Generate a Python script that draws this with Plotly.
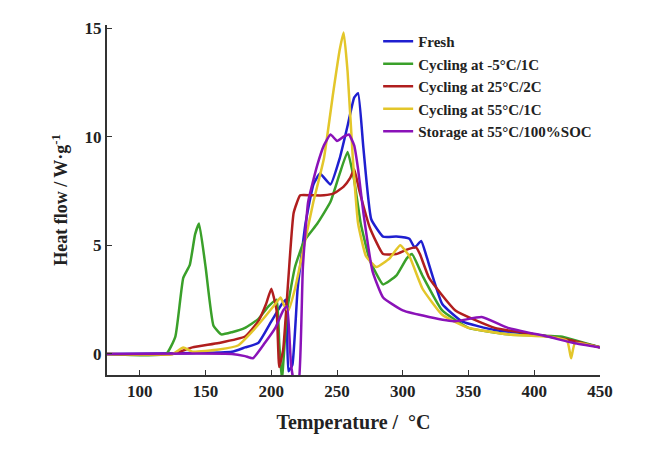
import plotly.graph_objects as go

names = ['Fresh', 'Cycling at -5°C/1C', 'Cycling at 25°C/2C', 'Cycling at 55°C/1C', 'Storage at 55°C/100%SOC']
colors = ['#1f1fd0', '#3aa02a', '#b01e1e', '#e3c62a', '#8a12b8']

fresh_t = [75, 170, 180, 190, 200, 208, 211, 213, 216, 220, 226, 232, 237, 245, 252, 258, 263, 266, 270, 276, 285, 295, 305, 309, 314, 318, 330, 345, 370, 400, 430, 450]
fresh_y = [0, 0.1, 0.3, 0.5, 1.5, 2.3, 2.5, -0.8, -0.5, 3, 6, 7.8, 8.3, 7.8, 9, 10.5, 11.8, 12.0, 9.5, 6.2, 5.4, 5.4, 5.3, 4.9, 5.2, 4.5, 2.3, 1.5, 1.1, 0.9, 0.6, 0.3]

green_t = [75, 120, 127, 133, 138, 142, 145, 150, 156, 162, 170, 180, 190, 198, 204, 206, 208, 212, 218, 225, 235, 245, 252, 258, 263, 268, 275, 285, 295, 303, 307, 315, 330, 350, 380, 420, 450]
green_y = [0, 0, 0.8, 3.5, 4.1, 5.5, 6.0, 4.0, 1.3, 0.9, 1.0, 1.2, 1.6, 2.2, 2.5, 0.5, -1.2, 2.0, 4.0, 5.2, 6.0, 7.0, 8.3, 9.3, 8.0, 6.0, 4.3, 3.2, 3.6, 4.4, 4.6, 3.6, 2.0, 1.2, 0.9, 0.8, 0.3]

red_t = [75, 125, 140, 160, 180, 190, 196, 200, 204, 206, 209, 213, 217, 222, 230, 240, 248, 255, 260, 263, 267, 275, 285, 295, 303, 310, 313, 320, 340, 370, 400, 430, 450]
red_y = [0, 0, 0.3, 0.5, 0.8, 1.5, 2.3, 3.0, 2.0, -0.6, 0.2, 3.5, 6.5, 7.3, 7.3, 7.3, 7.4, 7.7, 8.1, 8.5, 7.5, 5.8, 4.6, 4.6, 4.8, 4.9, 4.6, 3.5, 2.0, 1.2, 0.9, 0.6, 0.3]

yellow_t = [75, 125, 133, 140, 160, 175, 185, 195, 203, 207, 210, 213, 218, 225, 232, 240, 247, 252, 255, 258, 262, 266, 272, 280, 290, 298, 305, 315, 330, 350, 380, 410, 425, 428, 431, 450]
yellow_y = [0, 0, 0.3, 0.1, 0.2, 0.4, 1.0, 1.7, 2.3, 2.6, 2.2, 2.0, 3.0, 5.0, 7.0, 9.0, 12.0, 14.0, 14.8, 13.0, 9.0, 6.0, 4.5, 4.0, 4.4, 5.0, 4.5, 3.0, 1.8, 1.2, 0.9, 0.8, 0.6, -0.2, 0.5, 0.3]

purple_t = [75, 170, 180, 186, 195, 203, 209, 212, 215, 218, 221, 224, 228, 235, 240, 245, 250, 255, 259, 263, 266, 270, 277, 285, 300, 320, 340, 360, 380, 410, 430, 450]
purple_y = [0, 0, -0.1, -0.2, 0.5, 1.2, 2.0, 2.2, -0.5, -1.5, -1.2, 4.0, 7.0, 8.7, 9.6, 10.1, 9.8, 10.0, 10.1, 9.6, 8.5, 6.5, 3.8, 2.6, 2.0, 1.7, 1.5, 1.7, 1.2, 0.8, 0.5, 0.3]

series_t = [fresh_t, green_t, red_t, yellow_t, purple_t]
series_y = [fresh_y, green_y, red_y, yellow_y, purple_y]

fig = go.Figure()
for name, color, t, y in zip(names, colors, series_t, series_y):
    fig.add_trace(go.Scatter(x=t, y=y, mode='lines', name=name,
                             line=dict(color=color, width=2.5, shape='spline', smoothing=0.4)))

font = 'Liberation Serif'
fig.update_layout(
    width=660, height=456,
    plot_bgcolor='white', paper_bgcolor='white',
    margin=dict(l=99, r=68, t=17, b=89),
    font=dict(family=font, color='#222', size=17),
    legend=dict(x=0.55, y=1.0, xanchor='left', yanchor='top', bgcolor='rgba(0,0,0,0)',
                font=dict(family=font, size=15, color='#222', weight='bold'), tracegroupgap=0),
    xaxis=dict(range=[75, 450], tickvals=[100, 150, 200, 250, 300, 350, 400, 450], automargin=False,
               showline=True, linecolor='#333', linewidth=2, ticks='inside', ticklen=5,
               tickcolor='#333', showgrid=False, zeroline=False,
               tickfont=dict(size=17, weight='bold'),
               title=dict(text='<b>Temperature /  °C</b>', font=dict(size=20))),
    yaxis=dict(range=[-0.97, 15.14], tickvals=[0, 5, 10, 15], automargin=False,
               showline=True, linecolor='#333', linewidth=2, ticks='inside', ticklen=5,
               tickcolor='#333', showgrid=False, zeroline=False,
               tickfont=dict(size=17, weight='bold'),
               title=dict(text='<b>Heat flow / W·g<sup>-1</sup></b>', font=dict(size=18), standoff=12)),
)
fig.write_html('out.html')
